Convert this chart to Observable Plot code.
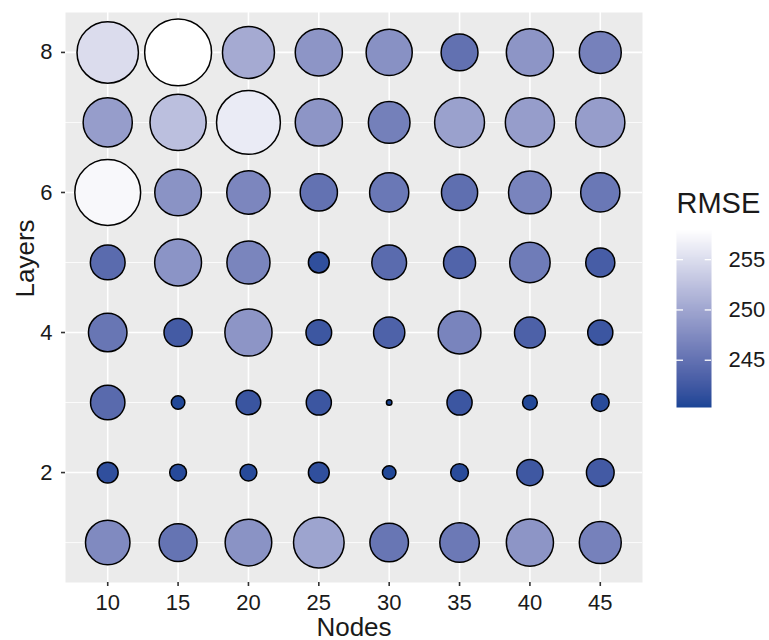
<!DOCTYPE html>
<html>
<head>
<meta charset="utf-8">
<script src="https://cdn.jsdelivr.net/npm/d3@7"></script>
<script src="https://cdn.jsdelivr.net/npm/@observablehq/plot@0.6"></script>
<style>
  html, body { margin: 0; padding: 0; background: #ffffff; }
  #wrap { position: relative; width: 769px; height: 640px; font-family: "Liberation Sans", Arial, Helvetica, sans-serif; }
  #legend { position: absolute; left: 650px; top: 170px; }
</style>
</head>
<body>
<div id="wrap"><div id="main"></div><div id="legend"></div></div>
<script>
// Network size grid: hidden nodes per layer (x) and number of layers (y)
const nodes = [10, 15, 20, 25, 30, 35, 40, 45];
const layers = [1, 2, 3, 4, 5, 6, 7, 8];

// Validation RMSE for each layer count, one value per node count (10 … 45)
const rmseLayer1 = [247.4, 245.2, 248.2, 249.8, 245.4, 245.7, 248.4, 246.5];
const rmseLayer2 = [241.4, 240.9, 240.9, 241.4, 240.6, 241.0, 242.3, 242.6];
const rmseLayer3 = [244.2, 240.6, 242.0, 242.1, 240.3, 242.1, 240.7, 241.0];
const rmseLayer4 = [245.4, 242.7, 248.4, 242.2, 243.4, 246.8, 243.3, 242.1];
const rmseLayer5 = [244.3, 248.3, 246.9, 241.4, 244.3, 243.6, 246.0, 242.9];
const rmseLayer6 = [257.3, 248.2, 247.0, 245.0, 245.6, 244.7, 246.8, 245.6];
const rmseLayer7 = [249.2, 252.3, 256.2, 248.4, 246.4, 249.5, 249.2, 249.2];
const rmseLayer8 = [254.9, 257.9, 250.4, 248.4, 248.0, 244.9, 248.4, 246.5];

// Axis and legend breaks
const nodeTicks = [10, 15, 20, 25, 30, 35, 40, 45];
const layerTicks = [2, 4, 6, 8];
const layerMinor = [1, 3, 5, 7];
const legendTicks = [245, 250, 255];

const rows = [rmseLayer1, rmseLayer2, rmseLayer3, rmseLayer4, rmseLayer5, rmseLayer6, rmseLayer7, rmseLayer8];
const cells = layers.flatMap((layer, i) =>
  nodes.map((n, j) => ({nodes: n, layers: layer, rmse: rows[i][j]}))
);
const [lo, hi] = d3.extent(cells, d => d.rmse);

const font = '"Liberation Sans", Arial, Helvetica, sans-serif';
const ink = "#1a1a1a";
const colorScale = {type: "linear", domain: [lo, hi], range: ["#1a4596", "#ffffff"], interpolate: "lab"};

const chart = Plot.plot({
  width: 650,
  height: 640,
  marginLeft: 65,
  marginRight: 8,
  marginTop: 12,
  marginBottom: 58,
  style: {fontFamily: font, background: "#ffffff", overflow: "visible"},
  x: {domain: [7, 48]},
  y: {domain: [0.43, 8.57]},
  // area-proportional sizes measured from the lowest RMSE
  r: {type: "sqrt", domain: [0, hi - lo], range: [2.75, 33.45]},
  color: colorScale,
  marks: [
    Plot.frame({fill: "#ebebeb", stroke: null}),
    Plot.ruleY(layerMinor, {stroke: "#ffffff", strokeWidth: 0.8}),
    Plot.ruleY(layerTicks, {stroke: "#ffffff", strokeWidth: 1.6}),
    Plot.ruleX(nodeTicks, {stroke: "#ffffff", strokeWidth: 1.6}),
    Plot.axisX({ticks: nodeTicks, tickSize: 4, tickPadding: 8, fontSize: 22, label: null, stroke: "#333333", strokeWidth: 1.6, fill: ink}),
    Plot.axisY({ticks: layerTicks, tickSize: 4, tickPadding: 9, fontSize: 22, label: null, stroke: "#333333", strokeWidth: 1.6, fill: ink}),
    Plot.dot(cells, {
      x: "nodes",
      y: "layers",
      r: d => d.rmse - lo,
      fill: "rmse",
      stroke: "#000000",
      strokeWidth: 1.5
    }),
    Plot.text(["Nodes"], {frameAnchor: "bottom", dy: 53, lineAnchor: "bottom", fontSize: 26, fill: ink}),
    Plot.text(["Layers"], {frameAnchor: "left", dx: -32, rotate: -90, lineAnchor: "bottom", fontSize: 26, fill: ink})
  ]
});
document.getElementById("main").appendChild(chart);

// Vertical colour bar for RMSE
const legend = Plot.plot({
  width: 119,
  height: 260,
  margin: 0,
  style: {fontFamily: font, background: "transparent", overflow: "visible"},
  x: {domain: [0, 1], range: [26, 61], axis: null},
  y: {domain: [lo, hi], range: [237, 60], axis: null},
  color: colorScale,
  marks: [
    Plot.raster({x1: 0, x2: 1, y1: lo, y2: hi, width: 1, height: 200, fill: (x, y) => y}),
    Plot.ruleY(legendTicks, {x1: 0, x2: 0.2, stroke: "#ffffff", strokeWidth: 1.3}),
    Plot.ruleY(legendTicks, {x1: 0.82, x2: 1, stroke: "#ffffff", strokeWidth: 1.3}),
    Plot.text(legendTicks, {x: 1, y: d => d, text: d => `${d}`, textAnchor: "start", dx: 17, fontSize: 22, fill: ink}),
    Plot.text(["RMSE"], {x: 0, y: hi, dy: -18, textAnchor: "start", lineAnchor: "bottom", fontSize: 29, fill: ink})
  ]
});
document.getElementById("legend").appendChild(legend);
</script>
</body>
</html>
